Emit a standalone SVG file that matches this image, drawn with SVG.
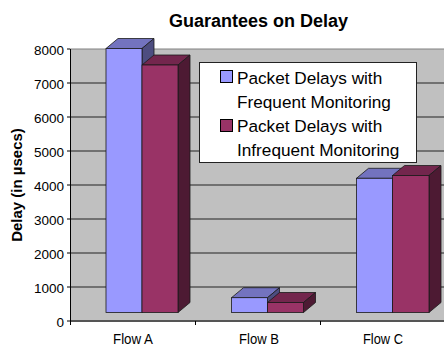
<svg xmlns="http://www.w3.org/2000/svg" width="444" height="347" viewBox="0 0 444 347">
<style>
.t{font-family:"Liberation Sans",Arial,sans-serif;fill:#000}
.grid{stroke:#222;stroke-width:1}
.bf{fill:#9999FF;stroke:#1a1a1a;stroke-width:0.8}
.bt{fill:#7373BF;stroke:#1a1a1a;stroke-width:0.8}
.bs{fill:#4D4D80;stroke:#1a1a1a;stroke-width:0.8}
.rf{fill:#993366;stroke:#1a1a1a;stroke-width:0.8}
.rt{fill:#73264D;stroke:#1a1a1a;stroke-width:0.8}
.rs{fill:#4D1A33;stroke:#1a1a1a;stroke-width:0.8}
.ylab{font-size:13.5px;text-anchor:end}
.xlab{font-size:14px;text-anchor:middle}
.leg{font-size:17.2px}
</style>
<rect width="444" height="347" fill="#fff"/>
<text class="t" x="258.5" y="27" font-size="18" font-weight="bold" text-anchor="middle">Guarantees on Delay</text>
<g id="plot-area">
<rect x="70" y="49" width="374" height="272" fill="#C0C0C0"/>
<line x1="70" y1="49" x2="444" y2="49" stroke="#808080" stroke-width="1"/>
<g class="grid">
<line x1="70" y1="83" x2="444" y2="83"/>
<line x1="70" y1="117" x2="444" y2="117"/>
<line x1="70" y1="151" x2="444" y2="151"/>
<line x1="70" y1="185" x2="444" y2="185"/>
<line x1="70" y1="219" x2="444" y2="219"/>
<line x1="70" y1="253" x2="444" y2="253"/>
<line x1="70" y1="287" x2="444" y2="287"/>
</g>
<line x1="70" y1="321" x2="444" y2="321" stroke="#555" stroke-width="2"/>
<line x1="70.5" y1="49" x2="70.5" y2="325" stroke="#000" stroke-width="1"/>
<g stroke="#000" stroke-width="1">
<line x1="67" y1="49" x2="70" y2="49"/>
<line x1="67" y1="83" x2="70" y2="83"/>
<line x1="67" y1="117" x2="70" y2="117"/>
<line x1="67" y1="151" x2="70" y2="151"/>
<line x1="67" y1="185" x2="70" y2="185"/>
<line x1="67" y1="219" x2="70" y2="219"/>
<line x1="67" y1="253" x2="70" y2="253"/>
<line x1="67" y1="287" x2="70" y2="287"/>
<line x1="67" y1="321" x2="70" y2="321"/>
<line x1="195.5" y1="321" x2="195.5" y2="325"/>
<line x1="320.5" y1="321" x2="320.5" y2="325"/>
</g>
</g>
<g id="y-axis-labels" class="t">
<text class="t ylab" x="64" y="55">8000</text>
<text class="t ylab" x="64" y="89">7000</text>
<text class="t ylab" x="64" y="123">6000</text>
<text class="t ylab" x="64" y="157">5000</text>
<text class="t ylab" x="64" y="191">4000</text>
<text class="t ylab" x="64" y="225">3000</text>
<text class="t ylab" x="64" y="259">2000</text>
<text class="t ylab" x="64" y="293">1000</text>
<text class="t ylab" x="64" y="326.5">0</text>
</g>
<text class="t" transform="translate(22,185) rotate(-90)" font-size="15" font-weight="bold" text-anchor="middle">Delay (in µsecs)</text>
<g id="flow-a">
<polygon class="bt" points="106,48.5 142,48.5 154,38.5 118,38.5"/>
<polygon class="bs" points="142,48.5 154,38.5 154,302.5 142,312.5"/>
<rect class="bf" x="106" y="48.5" width="36" height="264"/>
<polygon class="rt" points="142,65 178,65 190,55 154,55"/>
<polygon class="rs" points="178,65 190,55 190,302.5 178,312.5"/>
<rect class="rf" x="142" y="65" width="36" height="247.5"/>
</g>
<g id="flow-b">
<polygon class="bt" points="231.5,297.7 267.5,297.7 279.5,287.7 243.5,287.7"/>
<polygon class="bs" points="267.5,297.7 279.5,287.7 279.5,302.5 267.5,312.5"/>
<rect class="bf" x="231.5" y="297.7" width="36" height="14.8"/>
<polygon class="rt" points="267.5,302.5 303.5,302.5 315.5,292.5 279.5,292.5"/>
<polygon class="rs" points="303.5,302.5 315.5,292.5 315.5,302.5 303.5,312.5"/>
<rect class="rf" x="267.5" y="302.5" width="36" height="10"/>
</g>
<g id="flow-c">
<polygon class="bt" points="356.5,178.3 392.5,178.3 404.5,168.3 368.5,168.3"/>
<polygon class="bs" points="392.5,178.3 404.5,168.3 404.5,302.5 392.5,312.5"/>
<rect class="bf" x="356.5" y="178.3" width="36" height="134.2"/>
<polygon class="rt" points="392.5,175.5 429,175.5 441,165.5 404.5,165.5"/>
<polygon class="rs" points="429,175.5 441,165.5 441,302.5 429,312.5"/>
<rect class="rf" x="392.5" y="175.5" width="36.5" height="137"/>
</g>
<g id="x-axis-labels">
<text class="t xlab" x="133" y="344" textLength="40" lengthAdjust="spacingAndGlyphs">Flow A</text>
<text class="t xlab" x="259" y="344" textLength="40" lengthAdjust="spacingAndGlyphs">Flow B</text>
<text class="t xlab" x="383" y="344" textLength="40" lengthAdjust="spacingAndGlyphs">Flow C</text>
</g>
<g id="legend">
<rect x="199.5" y="62.5" width="217" height="100" fill="#fff" stroke="#222" stroke-width="1"/>
<rect x="220.5" y="70.5" width="12" height="12" fill="#9999FF" stroke="#000" stroke-width="1"/>
<rect x="220.5" y="119.5" width="12" height="12" fill="#993366" stroke="#000" stroke-width="1"/>
<text class="t leg" x="237" y="83.5">Packet Delays with</text>
<text class="t leg" x="237" y="107.5">Frequent Monitoring</text>
<text class="t leg" x="237" y="131.5">Packet Delays with</text>
<text class="t leg" x="237" y="155.5">Infrequent Monitoring</text>
</g>
</svg>
